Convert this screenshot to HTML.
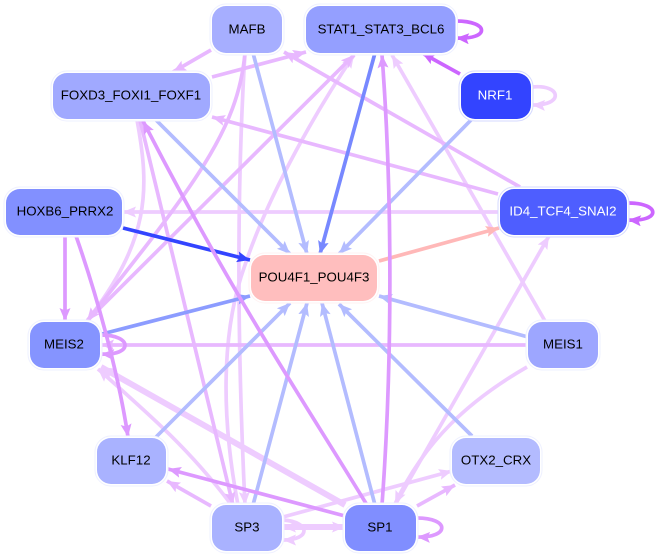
<!DOCTYPE html>
<html><head><meta charset="utf-8"><style>
html,body{margin:0;padding:0;background:#fff;width:657px;height:557px;overflow:hidden}
svg{display:block}
text{font-family:"Liberation Sans",sans-serif;font-size:13.3px;text-anchor:middle;dominant-baseline:central}
.e{fill:none;stroke-width:3.7}
</style></head><body>
<svg width="657" height="557" viewBox="0 0 657 557" xmlns="http://www.w3.org/2000/svg">
<defs>
<marker id="a1" markerUnits="userSpaceOnUse" markerWidth="14" markerHeight="12" refX="13" refY="5.500" orient="auto"><path d="M0 0L13 5.500L0 11L2.500 5.500Z" fill="#e8b8ff"/></marker>
<marker id="a2" markerUnits="userSpaceOnUse" markerWidth="14" markerHeight="12" refX="13" refY="5.500" orient="auto"><path d="M0 0L13 5.500L0 11L2.500 5.500Z" fill="#eeccff"/></marker>
<marker id="a3" markerUnits="userSpaceOnUse" markerWidth="14" markerHeight="12" refX="13" refY="5.500" orient="auto"><path d="M0 0L13 5.500L0 11L2.500 5.500Z" fill="#dd99ff"/></marker>
<marker id="a4" markerUnits="userSpaceOnUse" markerWidth="14" markerHeight="12" refX="13" refY="5.500" orient="auto"><path d="M0 0L13 5.500L0 11L2.500 5.500Z" fill="#cc66ff"/></marker>
<marker id="b1" markerUnits="userSpaceOnUse" markerWidth="14" markerHeight="12" refX="13" refY="5.500" orient="auto"><path d="M0 0L13 5.500L0 11L2.500 5.500Z" fill="#b3bcff"/></marker>
<marker id="b2" markerUnits="userSpaceOnUse" markerWidth="14" markerHeight="12" refX="13" refY="5.500" orient="auto"><path d="M0 0L13 5.500L0 11L2.500 5.500Z" fill="#8c9cff"/></marker>
<marker id="b3" markerUnits="userSpaceOnUse" markerWidth="14" markerHeight="12" refX="13" refY="5.500" orient="auto"><path d="M0 0L13 5.500L0 11L2.500 5.500Z" fill="#7788ff"/></marker>
<marker id="b4" markerUnits="userSpaceOnUse" markerWidth="14" markerHeight="12" refX="13" refY="5.500" orient="auto"><path d="M0 0L13 5.500L0 11L2.500 5.500Z" fill="#3344ff"/></marker>
<marker id="r1" markerUnits="userSpaceOnUse" markerWidth="14" markerHeight="12" refX="13" refY="5.500" orient="auto"><path d="M0 0L13 5.500L0 11L2.500 5.500Z" fill="#ffb8b8"/></marker>
</defs>

<g class="e" stroke="#eeccff">
<path d="M245 53C236 200 238 360 245 505" marker-end="url(#a2)"/>
<path d="M500 212L123 212" marker-end="url(#a2)"/>
<path d="M545 321L392 55" marker-end="url(#a2)"/>
<path d="M527 367C470 400 425 440 395 504" marker-end="url(#a2)"/>
<path d="M395 505L549 236" marker-end="url(#a2)"/>
<path d="M283 517L452 471" marker-end="url(#a2)"/>
<path d="M230 503C190 450 150 415 98 369" marker-end="url(#a2)"/>
<path d="M238 505C218 400 225 320 245 265C270 190 320 105 354 55" marker-end="url(#a2)"/>
<path d="M137 120C150 190 150 240 87 321" marker-end="url(#a2)"/>
<path d="M532 87C562 84 564 106 532 105" marker-end="url(#a2)"/>
<path d="M283 520C311 522 311 540 283 540" marker-end="url(#a2)"/>
<path d="M345 505L101 367" stroke-width="6" marker-end="url(#a2)"/>
<path d="M345 527L283 527" stroke-width="6" marker-end="url(#a2)"/>
<path d="M283 527L345 527" stroke-width="6" marker-end="url(#a2)"/>
</g>
<g class="e" stroke="#e8b8ff">
<path d="M212 77L306 52" marker-end="url(#a1)"/>
<path d="M498 194L212 117" marker-end="url(#a1)"/>
<path d="M520 187L284 52" marker-end="url(#a1)"/>
<path d="M140 120L233 505" marker-end="url(#a1)"/>
<path d="M245 53C238 130 195 185 87 321" marker-end="url(#a1)"/>
<path d="M87 321L354 55" marker-end="url(#a1)"/>
<path d="M528 345L101 345" marker-end="url(#a1)"/>
<path d="M417 506L455 485" marker-end="url(#a1)"/>
<path d="M211 50L173 72" marker-end="url(#a1)"/>
<path d="M211 506L167 481" marker-end="url(#a1)"/>
</g>
<g class="e" stroke="#b3bcff">
<path d="M253 53L307 254" marker-end="url(#b1)"/>
<path d="M472 119L339 254" marker-end="url(#b1)"/>
<path d="M156 120L290 254" marker-end="url(#b1)"/>
<path d="M528 337L379 296" marker-end="url(#b1)"/>
<path d="M375 505L322 303" marker-end="url(#b1)"/>
<path d="M472 436L339 304" marker-end="url(#b1)"/>
<path d="M253 505L307 303" marker-end="url(#b1)"/>
<path d="M156 437L290 303" marker-end="url(#b1)"/>
</g>
<g class="e">
<path d="M102 334L250 296" stroke="#8c9cff" marker-end="url(#b2)"/>
<path d="M375 53L320 254" stroke="#7788ff" marker-end="url(#b3)"/>
<path d="M123 228L250 260" stroke="#3344ff" marker-end="url(#b4)"/>
<path d="M379 261L499 228" stroke="#ffb8b8" marker-end="url(#r1)"/>
<path d="M65 236L65 321" stroke="#dd99ff" marker-end="url(#a3)"/>
<path d="M76 236C95 290 118 370 128 437" stroke="#dd99ff" marker-end="url(#a3)"/>
<path d="M367 505C300 395 235 300 143 121" stroke="#dd99ff" marker-end="url(#a3)"/>
<path d="M382 505C392 370 393 200 382 55" stroke="#dd99ff" marker-end="url(#a3)"/>
<path d="M345 516L168 469" stroke="#dd99ff" marker-end="url(#a3)"/>
<path d="M101 335C133 335 133 356 101 354" stroke="#dd99ff" marker-end="url(#a3)"/>
<path d="M417 518C450 518 450 538 417 537" stroke="#dd99ff" marker-end="url(#a3)"/>
<path d="M460 74L422 53" stroke="#cc66ff" marker-end="url(#a4)"/>
<path d="M456 21C490 21 490 40 456 38" stroke="#cc66ff" marker-end="url(#a4)"/>
<path d="M628 203C661 203 661 222 628 220" stroke="#cc66ff" marker-end="url(#a4)"/>
</g>

<g fill="#fff" stroke="none">
<rect x="210" y="4" width="74" height="51" rx="16"/>
<rect x="304" y="4" width="153.500" height="51" rx="16"/>
<rect x="51" y="71" width="161" height="50" rx="16"/>
<rect x="459" y="71" width="74" height="50" rx="16"/>
<rect x="4" y="187" width="120" height="50" rx="16"/>
<rect x="498" y="187" width="131" height="50" rx="16"/>
<rect x="249" y="253" width="130" height="50" rx="16"/>
<rect x="28" y="320" width="74" height="50" rx="16"/>
<rect x="526" y="320" width="74" height="50" rx="16"/>
<rect x="95" y="436" width="73" height="50" rx="16"/>
<rect x="450" y="436" width="92" height="50" rx="16"/>
<rect x="210" y="503" width="74" height="50" rx="16"/>
<rect x="343" y="503" width="75" height="50" rx="16"/>
</g>
<g stroke="none">
<rect x="212" y="6" width="70" height="47" rx="14" fill="#a6aeff"/>
<rect x="306" y="6" width="149.500" height="47" rx="14" fill="#949fff"/>
<rect x="53" y="73" width="157" height="46" rx="14" fill="#a0a9ff"/>
<rect x="461" y="73" width="70" height="46" rx="14" fill="#3344ff"/>
<rect x="6" y="189" width="116" height="46" rx="14" fill="#8290ff"/>
<rect x="500" y="189" width="127" height="46" rx="14" fill="#4e5eff"/>
<rect x="251" y="255" width="126" height="46" rx="14" fill="#ffbebe"/>
<rect x="30" y="322" width="70" height="46" rx="14" fill="#8594ff"/>
<rect x="528" y="322" width="70" height="46" rx="14" fill="#9da6ff"/>
<rect x="97" y="438" width="69" height="46" rx="14" fill="#a9b2ff"/>
<rect x="452" y="438" width="88" height="46" rx="14" fill="#b3bbff"/>
<rect x="212" y="505" width="70" height="46" rx="14" fill="#a9b2ff"/>
<rect x="345" y="505" width="71" height="46" rx="14" fill="#808eff"/>
</g>
<g fill="none" stroke="#eef0ff" stroke-width="1">
<rect x="210" y="4" width="74" height="51" rx="16"/>
<rect x="304" y="4" width="153.500" height="51" rx="16"/>
<rect x="51" y="71" width="161" height="50" rx="16"/>
<rect x="459" y="71" width="74" height="50" rx="16" stroke="#d4d9ff"/>
<rect x="4" y="187" width="120" height="50" rx="16"/>
<rect x="498" y="187" width="131" height="50" rx="16" stroke="#d4d9ff"/>
<rect x="249" y="253" width="130" height="50" rx="16" stroke="#fff2f2"/>
<rect x="28" y="320" width="74" height="50" rx="16"/>
<rect x="526" y="320" width="74" height="50" rx="16"/>
<rect x="95" y="436" width="73" height="50" rx="16"/>
<rect x="450" y="436" width="92" height="50" rx="16"/>
<rect x="210" y="503" width="74" height="50" rx="16"/>
<rect x="343" y="503" width="75" height="50" rx="16"/>
</g>
<g fill="#000">
<text x="247" y="29">MAFB</text>
<text x="381" y="29">STAT1_STAT3_BCL6</text>
<text x="131" y="95">FOXD3_FOXI1_FOXF1</text>
<text x="495" y="95" fill="#fff">NRF1</text>
<text x="65" y="211">HOXB6_PRRX2</text>
<text x="563" y="211" fill="#fff">ID4_TCF4_SNAI2</text>
<text x="314" y="277">POU4F1_POU4F3</text>
<text x="64" y="344">MEIS2</text>
<text x="563" y="344">MEIS1</text>
<text x="131" y="460">KLF12</text>
<text x="496" y="460">OTX2_CRX</text>
<text x="247" y="527">SP3</text>
<text x="380" y="527">SP1</text>
</g>
</svg>
</body></html>
